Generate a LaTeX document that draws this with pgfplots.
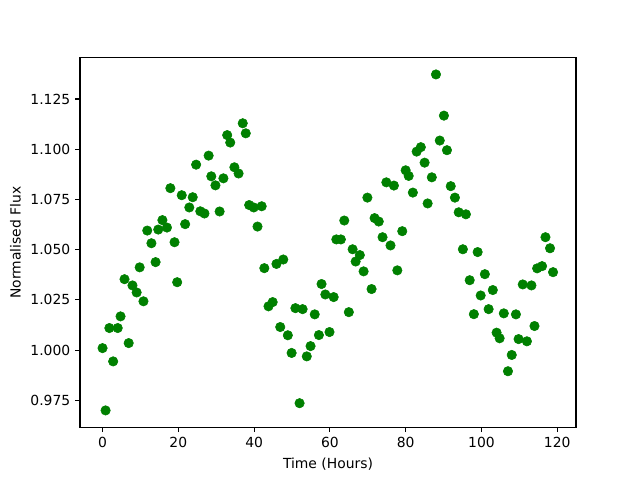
\documentclass[border=0pt]{standalone}
\usepackage{fontspec}
\setmainfont{DejaVu Sans}
\usepackage{pgfplots}
\pgfplotsset{compat=1.18}
\definecolor{mplgreen}{RGB}{0,128,0}
\begin{document}
\begin{tikzpicture}
\path[use as bounding box] (0,0) rectangle (460.8pt,345.6pt);
\begin{axis}[
  at={(57.6pt,38.0pt)}, anchor=south west,
  scale only axis, width=357.1pt, height=266.1pt,
  xmin=-5.95, xmax=124.95, ymin=0.96164, ymax=1.14556,
  xtick={0,20,...,120},
  ytick={0.975,1.000,1.025,1.050,1.075,1.100,1.125},
  yticklabel style={/pgf/number format/.cd,fixed,fixed zerofill,precision=3},
  /pgf/number format/assume math mode=true,
  tick align=outside, major tick length=3.5pt,
  every tick/.style={black, line width=0.8pt},
  axis line style={line width=0.8pt},
  xtick pos=bottom, ytick pos=left,
  tick label style={font=\fontsize{10}{12}\selectfont},
  label style={font=\fontsize{10}{12}\selectfont},
  xlabel={Time (Hours)}, ylabel={Normalised Flux},
  xlabel style={yshift=-1pt},
]
\addplot[only marks, mark=*, mark size=3.4pt, mplgreen, mark options={fill=mplgreen, draw=mplgreen}] coordinates {
(0.0,1.001) (0.8,0.970) (1.8,1.011) (2.8,0.9944) (4.0,1.011) (4.75,1.0168)
(5.8,1.0353) (6.9,1.0035) (7.9,1.0322) (9.0,1.0287) (9.8,1.0412) (10.8,1.0243)
(11.8,1.0595) (12.9,1.0532) (14.0,1.0438) (14.7,1.060) (15.8,1.0647) (17.0,1.061)
(17.9,1.0806) (19.0,1.0537) (19.7,1.0338) (20.9,1.0771) (21.8,1.0627) (22.9,1.071)
(23.8,1.0761) (24.7,1.0923) (25.8,1.0691) (26.9,1.068) (28.0,1.0968) (28.7,1.0865)
(29.8,1.082) (30.9,1.069) (31.9,1.0855) (32.9,1.107) (33.7,1.1033) (34.8,1.091)
(35.9,1.0879) (37.0,1.1129) (37.8,1.1079) (38.7,1.0722) (39.9,1.071) (40.9,1.0615)
(42.0,1.0716) (42.7,1.0408) (43.8,1.0218) (44.9,1.0239) (45.9,1.0429) (46.9,1.0115)
(47.7,1.0451) (48.9,1.0074) (49.9,0.9986) (50.9,1.0209) (52.0,0.9736) (52.8,1.0204)
(53.9,0.9969) (54.9,1.002) (56.0,1.0178) (57.1,1.0075) (57.8,1.0329) (58.8,1.0277)
(59.9,1.009) (61.0,1.0264) (61.7,1.0551) (62.9,1.0551) (63.8,1.0645) (65.0,1.0189)
(66.0,1.0502) (66.8,1.0441) (67.9,1.0473) (68.9,1.0392) (69.9,1.0759) (71.0,1.0304)
(71.8,1.0657) (72.9,1.064) (73.9,1.0562) (74.9,1.0835) (76.0,1.0521) (76.9,1.0819)
(77.8,1.0397) (79.1,1.0592) (80.0,1.0895) (80.8,1.0867) (81.9,1.0784) (82.9,1.0988)
(84.0,1.101) (85.0,1.0933) (85.8,1.073) (86.9,1.086) (88.0,1.1372) (89.0,1.1043)
(90.1,1.1167) (90.9,1.0995) (91.9,1.0816) (93.0,1.0759) (94.0,1.0686) (95.1,1.0502)
(95.9,1.0676) (96.9,1.0348) (98.0,1.0179) (99.0,1.0488) (99.8,1.0272) (100.9,1.0378)
(101.9,1.0204) (103.0,1.0299) (104.0,1.0087) (104.8,1.0059) (105.9,1.0183) (107.0,0.9895)
(108.0,0.9976) (109.1,1.0178) (109.8,1.0055) (110.9,1.0327) (112.0,1.0044) (113.2,1.0322)
(114.0,1.012) (114.7,1.0407) (116.0,1.0418) (116.9,1.0562) (118.1,1.0507) (118.9,1.0388)
};
\end{axis}
\end{tikzpicture}
\end{document}
